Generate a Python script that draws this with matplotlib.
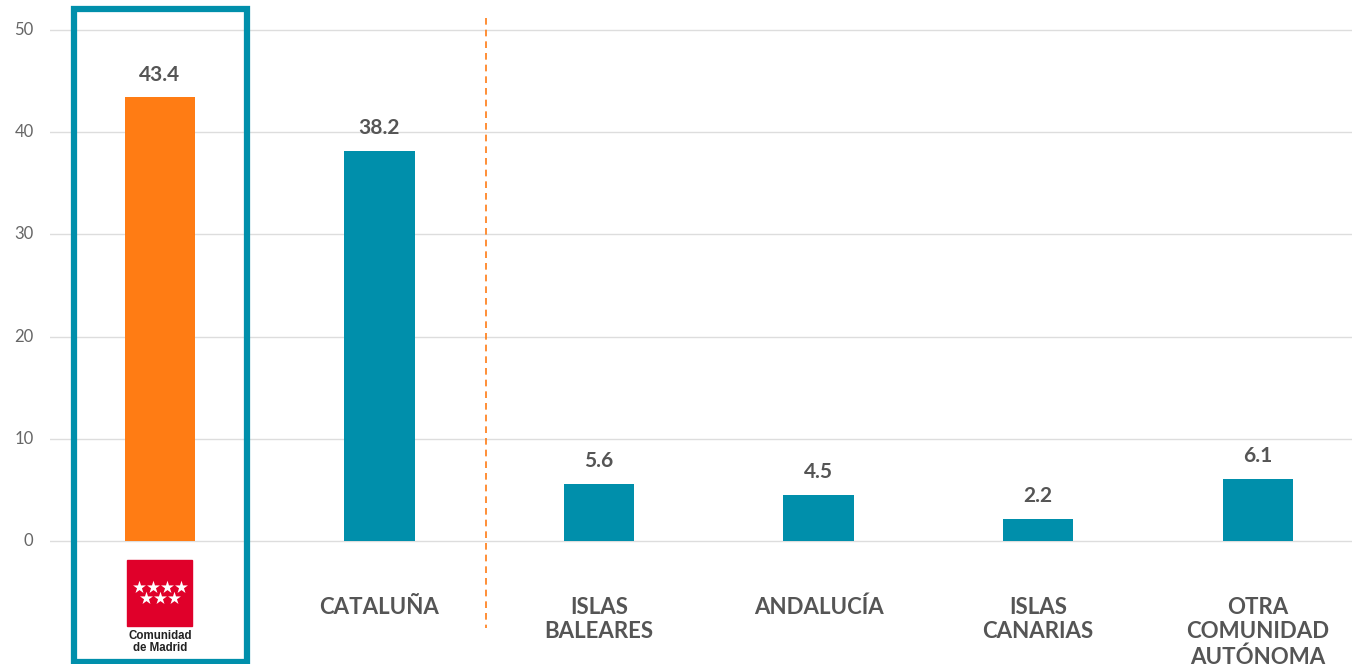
import numpy as np
import matplotlib.pyplot as plt
from matplotlib.patches import Rectangle

# data
categories = ["", "CATALUÑA", "ISLAS\nBALEARES", "ANDALUCÍA", "ISLAS\nCANARIAS", "OTRA\nCOMUNIDAD\nAUTÓNOMA"]
values = [43.4, 38.2, 5.6, 4.5, 2.2, 6.1]
yticks = [0, 10, 20, 30, 40, 50]

TEAL = "#008fab"
ORANGE = "#ff7c14"
GREY = "#555555"

plt.rcParams["font.family"] = ["Lato", "DejaVu Sans"]

fig = plt.figure(figsize=(13.52, 6.64), dpi=100)
ax = fig.add_axes([50 / 1352, 0, 1 - 50 / 1352, 1])

x = np.arange(len(values))
colors = [ORANGE] + [TEAL] * (len(values) - 1)
ax.bar(x, values, width=0.32, color=colors, zorder=3)

ax.set_xlim(-0.5, 5.429)
ax.set_ylim(-12.03, 52.94)

# gridlines only between 0 and 50
for t in yticks:
    ax.axhline(t, color="#dddddd", lw=1, zorder=1)
    ax.text(-0.575, t, str(t), ha="right", va="center", fontsize=12, color="#666666")

for s in ax.spines.values():
    s.set_visible(False)
ax.set_xticks([])
ax.set_yticks([])

# value labels
for xi, v in zip(x, values):
    ax.annotate(f"{v}", (xi, v), xytext=(0, 12), textcoords="offset points",
                ha="center", va="baseline", fontsize=15, fontweight="bold", color=GREY)

# category labels
for xi, lab in zip(x, categories):
    if lab:
        ax.text(xi, -5.45, lab, ha="center", va="top", fontsize=16, fontweight="bold",
                color=GREY, linespacing=1.22)

# dashed separator
ax.plot([1.485, 1.485], [51.2, -8.5], color=ORANGE, lw=1.2, ls=(0, (4, 3)), clip_on=False, zorder=2)

# highlight box
ax.add_patch(Rectangle((-0.391, -11.84), 0.788, 63.9, fill=False, edgecolor=TEAL, lw=4.5,
                       clip_on=False, zorder=4))

# Comunidad de Madrid logo
ax.add_patch(Rectangle((-0.149, -8.32), 0.296, 6.46, color="#e0002a", clip_on=False, zorder=3))
star_x = [-0.096, -0.032, 0.032, 0.096, -0.064, 0.0, 0.064]
star_y = [-4.5, -4.5, -4.5, -4.5, -5.55, -5.55, -5.55]
ax.scatter(star_x, star_y, marker="*", s=95, color="white", zorder=5, clip_on=False, linewidths=0)
ax.text(0, -8.7, "Comunidad\nde Madrid", ha="center", va="top", fontsize=8.3, fontweight="bold",
        color="#222222", family=["Liberation Sans", "DejaVu Sans"], linespacing=0.95)

fig.savefig("out.png", dpi=100)
